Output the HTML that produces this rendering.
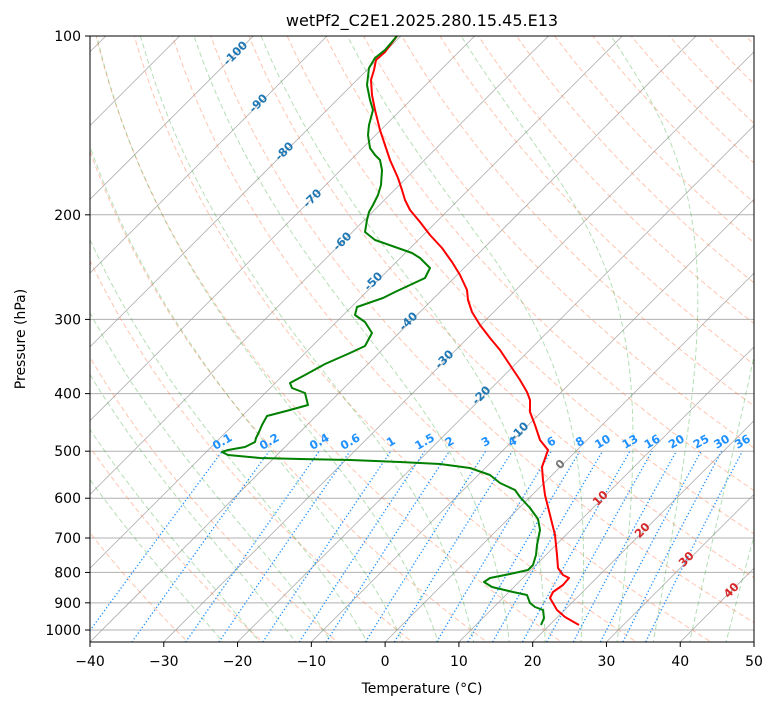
<!DOCTYPE html>
<html><head><meta charset="utf-8"><style>
body{margin:0;background:#fff;}
svg{display:block;font-family:"DejaVu Sans","Liberation Sans",sans-serif;}
</style></head><body>
<svg id="s" width="775" height="708" xmlns="http://www.w3.org/2000/svg">
<rect width="775" height="708" fill="#fff"/>
<defs><clipPath id="c"><rect x="90" y="36" width="664" height="606"/></clipPath></defs>
<g id="bg" clip-path="url(#c)"></g>
<g id="fg" clip-path="url(#c)">
<polyline fill="none" stroke="#ff0000" stroke-width="2" stroke-linejoin="round" points="397,36 385,52 376,60 374,70 371,80 372,95 375,110 380,130 385,145 390,160 398,178 402,190 405,200 410,210 420,222 430,235 442,248 452,262 460,275 467,290 468,300 472,312 480,325 490,338 500,350 510,365 520,380 527,392 530,400 530,412 535,425 540,440 548,450 542,467 543,480 545,495 550,515 555,535 557,555 558,568 563,575 569,578 563,585 553,592 550,598 557,610 565,617 579,625"/>
<polyline fill="none" stroke="#008000" stroke-width="2" stroke-linejoin="round" points="397,36 385,50 375,58 369,68 367,85 370,100 373,110 369,125 368,135 370,148 375,155 380,160 382,170 381,185 378,195 373,205 369,212 367,220 365,232 375,240 395,247 412,253 420,258 430,268 425,278 410,285 395,292 383,298 357,307 355,315 365,322 372,333 365,346 350,353 325,364 305,375 290,383 292,388 305,393 308,405 290,410 267,416 262,425 259,432 256,438 255,442 245,447 228,450 222,452 228,455 260,458 300,459 350,460 400,462 440,464 470,468 490,475 500,483 515,490 520,497 530,508 538,519 540,530 537,545 536,555 533,565 528,570 510,574 490,578 484,582 492,587 513,592 527,595 530,603 535,607 543,610 544,618 541,625"/>
</g>
<g id="lab" font-weight="bold" font-size="11.5"></g>
<rect x="90" y="36" width="664" height="606" fill="none" stroke="#000" stroke-width="1"/>
<g id="ax" font-size="14" fill="#000"></g>
<text x="422" y="26" font-size="16" text-anchor="middle">wetPf2_C2E1.2025.280.15.45.E13</text>
<text x="422" y="693" font-size="14" text-anchor="middle">Temperature (°C)</text>
<text transform="translate(25,339) rotate(-90)" font-size="14" text-anchor="middle">Pressure (hPa)</text>
</svg>
<script>
var NS="http://www.w3.org/2000/svg";
function Y(p){return 36+594*Math.log10(p/100);}
function X(T,p){return 90+(T+40)*7.378+(642-Y(p));}
var bg=document.getElementById('bg'),ax=document.getElementById('ax'),lab=document.getElementById('lab');
function el(par,tag,a,txt){var e=document.createElementNS(NS,tag);for(var k in a)e.setAttribute(k,a[k]);if(txt!==undefined)e.textContent=txt;par.appendChild(e);return e;}
function line(pts,style){el(bg,'polyline',Object.assign({fill:'none',points:pts.map(function(q){return q[0].toFixed(1)+','+q[1].toFixed(1);}).join(' ')},style));}
var ps=[];for(var p=1060;p>=95;p-=5)ps.push(p);
[100,200,300,400,500,600,700,800,900,1000].forEach(function(p){el(bg,'line',{x1:90,x2:754,y1:Y(p),y2:Y(p),stroke:'#b0b0b0','stroke-width':1});});
for(var T=-160;T<=60;T+=10){line([[X(T,1060),Y(1060)],[X(T,95),Y(95)]],{stroke:'#999','stroke-width':0.8,'stroke-opacity':0.8});}
for(var t0=-30;t0<200;t0+=10){var th=t0+273.15;line(ps.map(function(p){return [X(th*Math.pow(p/1000,0.2857)-273.15,p),Y(p)];}),{stroke:'#ff7f50','stroke-opacity':0.45,'stroke-width':1,'stroke-dasharray':'5,3'});}
function es(Tc){return 6.112*Math.exp(17.67*Tc/(Tc+243.5));}
function dTdp(Tk,p){var e=es(Tk-273.15),rs=0.622*e/(p-e);return (1/p)*(287*Tk+2.5e6*rs)/(1004+2.5e6*2.5e6*rs*0.622/(287*Tk*Tk));}
var mts=[];for(var t=-25;t<=45;t+=5)mts.push(t);
mts.forEach(function(t0){var Tk=t0+273.15,pts=[];
 var Tb=Tk,pb=1000;while(pb<1060){Tb+=dTdp(Tb,pb)*2;pb+=2;} pts.push([X(Tb-273.15,pb),Y(pb)]);
 var tt=Tb,pp=pb;while(pp>95){tt-=dTdp(tt,pp)*2;pp-=2;if(pp%10==0)pts.push([X(tt-273.15,pp),Y(pp)]);}
 line(pts,{stroke:'#2ca02c','stroke-opacity':0.35,'stroke-width':1,'stroke-dasharray':'5,3'});});
function td(w,p){var e=w*p/(0.622+w);var l=Math.log(e/6.112);return 243.5*l/(17.67-l);}
[0.1,0.2,0.4,0.6,1,1.5,2,3,4,6,8,10,13,16,20,25,30,36].forEach(function(g){var w=g/1000;var pts=[];for(var p=1060;p>=500;p-=10)pts.push([X(td(w,p),p),Y(p)]);line(pts,{stroke:'#1e90ff','stroke-width':1.3,'stroke-dasharray':'1.3,2.2'});
 var x=X(td(w,500),500);el(lab,'text',{x:0,y:0,fill:'#1e90ff','text-anchor':'middle',transform:'translate('+(x+2)+',445) rotate(-30)'},String(g));});
[[-100,238,52],[-90,261,102],[-80,287,150],[-70,315,197],[-60,345,240],[-50,376,280],[-40,411,320],[-30,447,358],[-20,484,394],[-10,522,430]].forEach(function(a){el(lab,'text',{fill:'#1f77b4','text-anchor':'middle',transform:'translate('+a[1]+','+(a[2]+4)+') rotate(-45)'},String(a[0]));});
[[10,603,497],[20,645,529],[30,689,558],[40,734,589]].forEach(function(a){el(lab,'text',{fill:'#d62728','text-anchor':'middle',transform:'translate('+a[1]+','+(a[2]+4)+') rotate(-45)'},String(a[0]));});
el(lab,'text',{fill:'#777','text-anchor':'middle',transform:'translate(563,467) rotate(-45)'},'0');
for(var T=-40;T<=50;T+=10){var x=90+(T+40)*7.378;el(ax,'line',{x1:x,x2:x,y1:642,y2:647,stroke:'#000'});el(ax,'text',{x:x,y:666,'text-anchor':'middle'},(T<0?'\u2212'+(-T):String(T)));}
[100,200,300,400,500,600,700,800,900,1000].forEach(function(p){var y=Y(p);el(ax,'line',{x1:85,x2:90,y1:y,y2:y,stroke:'#000'});el(ax,'text',{x:81,y:y+5,'text-anchor':'end'},String(p));});
</script>
</body></html>
